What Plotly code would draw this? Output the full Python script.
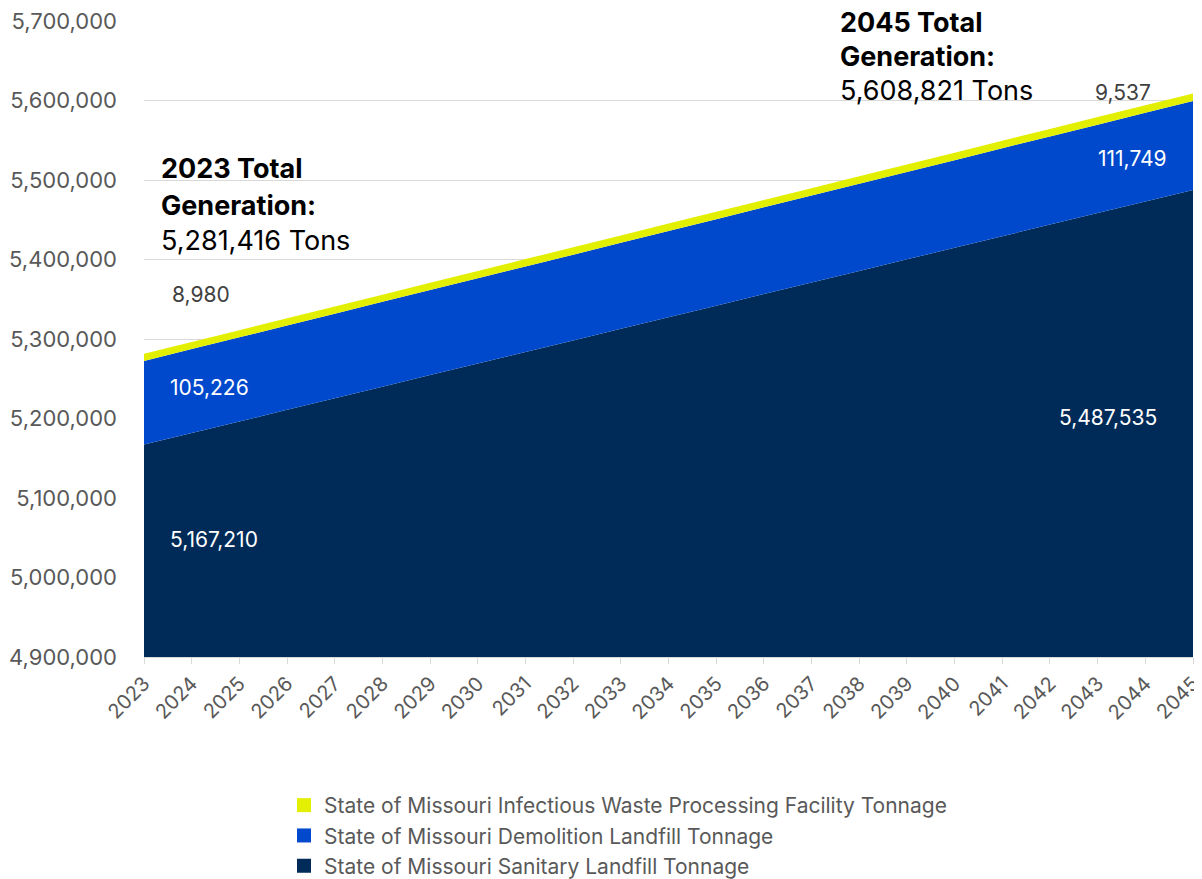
import plotly.graph_objects as go

years = list(range(2023, 2046))

sanitary = [5167210, 5181800, 5196300, 5210900, 5225500, 5240000, 5254600, 5269100,
            5283700, 5298200, 5312800, 5327400, 5341900, 5356500, 5371000, 5385600,
            5400200, 5414700, 5429300, 5443900, 5458400, 5473000, 5487535]
demolition = [105226, 105500, 105800, 106100, 106400, 106700, 107000, 107300,
              107600, 107900, 108200, 108500, 108800, 109100, 109400, 109700,
              110000, 110300, 110600, 110900, 111200, 111500, 111749]
infectious = [8980, 9000, 9030, 9050, 9080, 9110, 9130, 9160, 9180, 9210, 9230, 9260,
              9280, 9310, 9330, 9360, 9390, 9410, 9440, 9460, 9490, 9510, 9537]

names = ["State of Missouri Sanitary Landfill Tonnage",
         "State of Missouri Demolition Landfill Tonnage",
         "State of Missouri Infectious Waste Processing Facility Tonnage"]
colors = ["#002B59", "#0049CC", "#E2EF00"]

FONT = "Inter"
OFF = 8  # page body margin
W, H = 1202 - OFF, 879 - OFF
L, R, T, B = 144 - OFF, 9, 21 - OFF, 222
pw, ph = W - L - R, H - T - B


def px(x):
    return (x - OFF - L) / pw


def py(y):
    return (H - B - (y - OFF)) / ph


fig = go.Figure()
for name, vals, c in zip(names, [sanitary, demolition, infectious], colors):
    fig.add_trace(go.Scatter(
        x=years, y=vals, name=name, stackgroup="one", mode="none",
        fillcolor=c, hoverinfo="x+y", showlegend=False
    ))
# legend keys as squares
for name, c in zip(names, colors):
    fig.add_trace(go.Scatter(
        x=[None], y=[None], name=name, mode="markers",
        marker=dict(symbol="square", size=14, color=c)
    ))

total_start = sanitary[0] + demolition[0] + infectious[0]
total_end = sanitary[-1] + demolition[-1] + infectious[-1]

ann = []


def label(x, y, text, color, size=21, anchor="center"):
    ann.append(dict(x=px(x), y=py(y), xref="paper", yref="paper", text=text,
                    showarrow=False, xanchor=anchor, yanchor="middle",
                    font=dict(family=FONT, size=size, color=color)))


label(159, 169, "<b>2023 Total</b>", "#000000", 27, "left")
label(159, 205, "<b>Generation:</b>", "#000000", 27, "left")
label(159, 240, f"{total_start:,} Tons", "#000000", 27, "left")
label(838, 22, "<b>2045 Total</b>", "#000000", 27, "left")
label(838, 56, "<b>Generation:</b>", "#000000", 27, "left")
label(838, 91, f"{total_end:,} Tons", "#000000", 27, "left")

label(201, 294, f"{infectious[0]:,}", "#404040")
label(209, 388, f"{demolition[0]:,}", "#FFFFFF")
label(214, 539, f"{sanitary[0]:,}", "#FFFFFF")
label(1123, 92, f"{infectious[-1]:,}", "#404040")
label(1132, 159, f"{demolition[-1]:,}", "#FFFFFF")
label(1108, 417, f"{sanitary[-1]:,}", "#FFFFFF")

fig.update_layout(
    width=W, height=H,
    margin=dict(l=L, r=R, t=T, b=B, autoexpand=False),
    paper_bgcolor="white", plot_bgcolor="white",
    font=dict(family=FONT, size=20, color="#595959"),
    showlegend=True,
    legend=dict(orientation="v", traceorder="reversed", x=px(284), y=py(785),
                xanchor="left", yanchor="top", font=dict(size=21, color="#595959"),
                tracegroupgap=0, itemwidth=30),
    annotations=ann,
    xaxis=dict(range=[2023, 2045], tickmode="array", tickvals=years,
               ticktext=[str(y) for y in years], tickangle=-45,
               showgrid=False, showline=True, linecolor="#D9D9D9",
               ticks="outside", tickcolor="#D9D9D9", ticklen=6,
               ticklabeloverflow="allow", automargin=False,
               tickfont=dict(size=20, color="#595959")),
    yaxis=dict(range=[4900000, 5700000], dtick=100000, tickformat=",d",
               showgrid=True, gridcolor="#D9D9D9", gridwidth=1,
               zeroline=False, showline=False, ticks="",
               ticklabelstandoff=26, automargin=False,
               ticklabeloverflow="allow",
               tickfont=dict(size=22, color="#595959")),
)

fig.write_html("out.html")
